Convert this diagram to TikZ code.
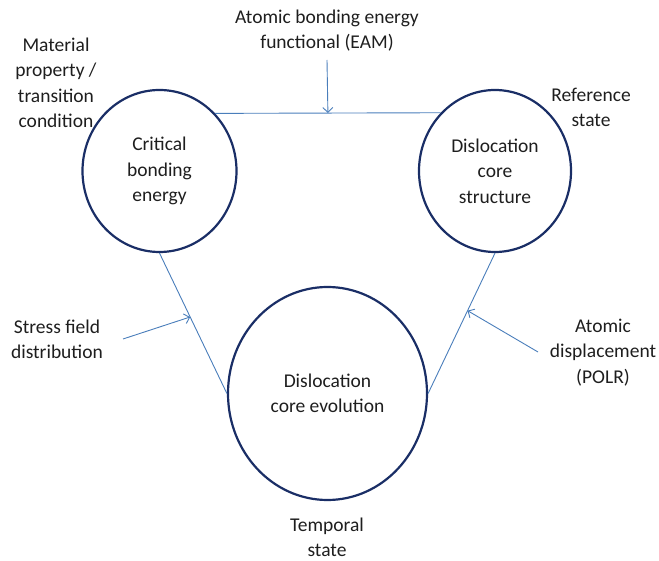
\documentclass[tikz,border=0pt]{standalone}
\usepackage{fontspec}
\setmainfont{Carlito}
\usetikzlibrary{shapes.geometric,arrows.meta}
\definecolor{ringcol}{HTML}{1A2E66}
\definecolor{linkcol}{HTML}{4A7EBB}
\definecolor{txtcol}{HTML}{1E1E1E}
\tikzset{
  ring/.style={ellipse, draw=ringcol, line width=2.2pt, inner sep=0pt,
    text=txtcol, align=center, font=\fontsize{19.5}{25.5}\selectfont},
  lbl/.style={text=txtcol, align=center, inner sep=0pt,
    font=\fontsize{19.5}{25.5}\selectfont},
  link/.style={draw=linkcol, line width=0.9pt},
  feed/.style={draw=linkcol, line width=0.9pt,
    -{Straight Barb[length=5pt,width=10pt,line width=0.9pt]}}
}
\begin{document}
\begin{tikzpicture}[x=1pt,y=-1pt]
\useasboundingbox (0,0) rectangle (659,561);
% the three states
\node[ring, minimum width=154pt, minimum height=162pt] (L) at (159.5,171) {Critical\\bonding\\energy};
\node[ring, minimum width=152pt, minimum height=162pt] (R) at (495,171) {Dislocation\\core\\structure};
\node[ring, minimum width=199pt, minimum height=213pt] (B) at (327.5,393.5) {Dislocation\\core evolution};
% labels
\node[lbl] (eam) at (327,30.5) {Atomic bonding energy\\functional (EAM)};
\node[lbl] (mat) at (56,83) {Material\\property /\\transition\\condition};
\node[lbl] (ref) at (591,107.5) {Reference\\state};
\node[lbl] (sfd) at (57,339.5) {Stress field\\distribution};
\node[lbl] (tmp) at (327,537.5) {Temporal\\state};
\node[lbl] (pol) at (603,352.5) {Atomic\\displacement\\(POLR)};
% connectors between states
\draw[link] (L.46) -- coordinate[pos=0.5] (mt) (R.133.5);
\draw[link] (L.south) -- coordinate[pos=0.455] (ml) (B.west);
\draw[link] (R.south) -- coordinate[pos=0.41] (mr) (B.east);
% inputs acting on the connectors
\coordinate (st) at (327,60);
\coordinate (sl) at (123,339);
\coordinate (sr) at (538,352);
\draw[feed] (st) -- (mt);
\draw[feed] (sl) -- (ml);
\draw[feed] (sr) -- (mr);
\end{tikzpicture}
\end{document}
